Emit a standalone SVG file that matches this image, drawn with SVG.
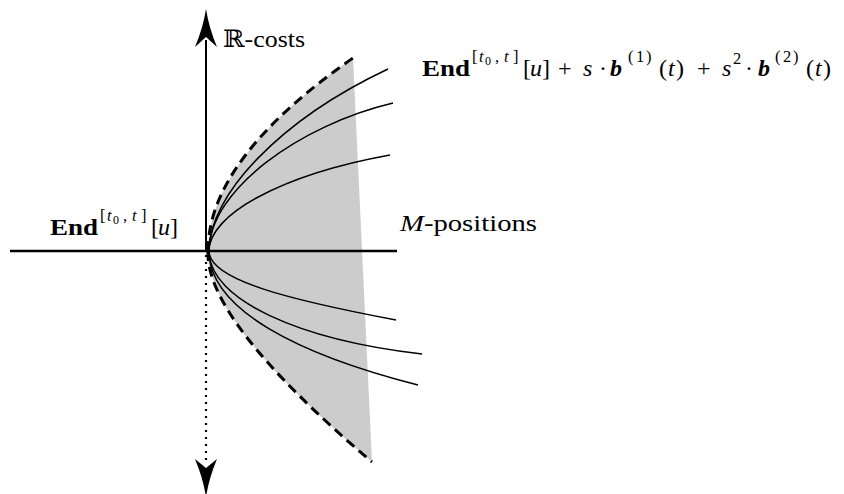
<svg xmlns="http://www.w3.org/2000/svg" width="844" height="494" viewBox="0 0 844 494">
<style>
text{font-family:"Liberation Serif","DejaVu Serif",serif;fill:#000}
.m{font-size:24px}
.s{font-size:16.5px}
.ss{font-size:12px}
.b{font-weight:bold}
.i{font-style:italic}
.bi{font-weight:bold;font-style:italic}
.dash{fill:none;stroke:#000;stroke-width:3;stroke-dasharray:10 6}
.crv{fill:none;stroke:#000;stroke-width:1.5}
.ax{fill:none;stroke:#000}
.head{fill:#000;stroke:none}
</style>
<g id="region">
<path d="M208,251 Q208,159 353,58 L372,462 Q205,320 208,251 Z" fill="#cccccc"/>
</g>
<g id="connectors">
<line class="ax" x1="10" y1="251" x2="397" y2="251" stroke-width="2.6"/>
<line class="ax" x1="206" y1="251" x2="206" y2="40" stroke-width="2"/>
<path class="head" d="M206,9 Q209,28 217,47 L206,37 L195,47 Q203,28 206,9 Z"/>
<line class="ax" x1="206" y1="255" x2="206" y2="464" stroke-width="2.2" stroke-dasharray="2 5"/>
<path class="head" d="M206,497 Q209,478 217,459 L206,468 L195,459 Q203,478 206,497 Z"/>
</g>
<g id="bounds">
<path class="dash" d="M208,251 Q208,159 353,58"/>
<path class="dash" d="M208,251 Q205,320 372,462"/>
</g>
<g id="curves">
<path class="crv" d="M209,251 C209,195 280,120 388,69"/>
<path class="crv" d="M209,251 C209,190 300,125 393,103"/>
<path class="crv" d="M209,251 C209,215 280,175 390,155"/>
<path class="crv" d="M209,251 C209,280 290,300 396,320"/>
<path class="crv" d="M209,251 C209,300 300,340 422,354"/>
<path class="crv" d="M209,251 C209,310 300,355 418,385"/>
</g>
<g id="label-costs">
<text class="m" x="223" y="47" textLength="82" lengthAdjust="spacingAndGlyphs">ℝ-costs</text>
</g>
<g id="label-positions">
<text class="m" x="400" y="231" textLength="137" lengthAdjust="spacingAndGlyphs"><tspan class="i">M</tspan>-positions</text>
</g>
<g id="label-end">
<text class="m b" x="50" y="235" textLength="48" lengthAdjust="spacingAndGlyphs">End</text>
<text class="s" x="100" y="221">[</text>
<text class="s i" x="107" y="221">t</text>
<text class="ss" x="113" y="224">0</text>
<text class="s" x="123" y="221">,</text>
<text class="s i" x="132" y="221">t</text>
<text class="s" x="141" y="221">]</text>
<text class="m" x="151" y="235">[</text>
<text class="m i" x="158" y="235">u</text>
<text class="m" x="170" y="235">]</text>
</g>
<g id="label-formula">
<text class="m b" x="422" y="76" textLength="48" lengthAdjust="spacingAndGlyphs">End</text>
<text class="s" x="472" y="62">[</text>
<text class="s i" x="479" y="62">t</text>
<text class="ss" x="485" y="65">0</text>
<text class="s" x="495" y="62">,</text>
<text class="s i" x="504" y="62">t</text>
<text class="s" x="513" y="62">]</text>
<text class="m" x="523" y="76">[</text>
<text class="m i" x="530" y="76">u</text>
<text class="m" x="542" y="76">]</text>
<text class="m" x="558" y="76">+</text>
<text class="m i" x="583" y="76">s</text>
<text class="m" x="599" y="76">·</text>
<text class="m bi" x="610" y="76">b</text>
<text class="s" x="628" y="62">(</text>
<text class="s" x="636" y="62">1</text>
<text class="s" x="646" y="62">)</text>
<text class="m" x="659" y="76">(</text>
<text class="m i" x="668" y="76">t</text>
<text class="m" x="676" y="76">)</text>
<text class="m" x="697" y="76">+</text>
<text class="m i" x="722" y="76">s</text>
<text class="s" x="733" y="64">2</text>
<text class="m" x="745" y="76">·</text>
<text class="m bi" x="758" y="76">b</text>
<text class="s" x="775" y="62">(</text>
<text class="s" x="783" y="62">2</text>
<text class="s" x="793" y="62">)</text>
<text class="m" x="806" y="76">(</text>
<text class="m i" x="815" y="76">t</text>
<text class="m" x="823" y="76">)</text>
</g>
</svg>
